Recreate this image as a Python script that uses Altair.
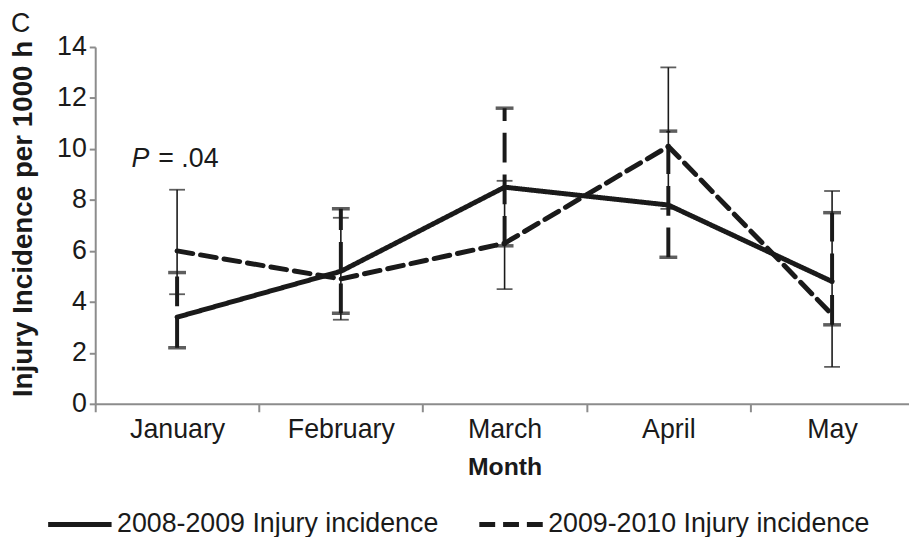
import altair as alt
import pandas as pd

months = ["January", "February", "March", "April", "May"]
series = ["2008-2009 Injury incidence", "2009-2010 Injury incidence"]
inc_0809 = [3.4, 5.2, 8.5, 7.8, 4.8]
inc_0910 = [6.0, 4.9, 6.3, 10.1, 3.5]
# thin error bars
thin_lo = [4.3, 3.3, 4.5, 7.65, 1.45]
thin_hi = [8.4, 7.3, 8.75, 13.2, 8.35]
# thick (dashed) error bars
thick_lo = [2.2, 3.55, 6.2, 5.75, 3.1]
thick_hi = [5.15, 7.65, 11.6, 10.7, 7.5]
y_ticks = [0, 2, 4, 6, 8, 10, 12, 14]
p_label_month = "January"
p_label_y = 9.6

FONT = "Liberation Sans"
INK = "#1a1a1a"
AXIS = "#8c8c8c"
FS = 27

lines_df = pd.DataFrame(
    {"month": months * 2,
     "value": inc_0809 + inc_0910,
     "series": [series[0]] * 5 + [series[1]] * 5}
)
err_df = pd.DataFrame(
    {"month": months, "thin_lo": thin_lo, "thin_hi": thin_hi,
     "thick_lo": thick_lo, "thick_hi": thick_hi}
)
p_df = pd.DataFrame({"month": [p_label_month], "y": [p_label_y]})

xscale = alt.Scale(type="band", domain=months, range=[0, 826],
                   paddingInner=0, paddingOuter=0)
yscale = alt.Scale(domain=[0, 14], nice=False)

x_enc = alt.X("month:N", scale=xscale, title="Month", sort=months,
              axis=alt.Axis(tickBand="extent", labelAngle=0, labelFontSize=FS,
                            labelFont=FONT, labelColor=INK, labelPadding=5,
                            tickSize=8, tickColor=AXIS, domainColor=AXIS,
                            domainWidth=2, tickWidth=2,
                            titleFont=FONT, titleFontSize=25, titleFontWeight="bold",
                            titleColor=INK, titlePadding=12, grid=False))

base = alt.Chart(err_df)

thin_rule = base.mark_rule(color=INK, strokeWidth=1.6).encode(
    x=x_enc,
    y=alt.Y("thin_lo:Q", scale=yscale,
            title="Injury Incidence per 1000 h",
            axis=alt.Axis(values=y_ticks, labelFontSize=FS, labelFont=FONT,
                          labelColor=INK, tickSize=6, tickColor=AXIS,
                          domainColor=AXIS, domainWidth=2, tickWidth=2,
                          labelPadding=3, grid=False,
                          titleFont=FONT, titleFontSize=28,
                          titleFontWeight="bold", titleColor=INK,
                          titlePadding=19, titleY=173)),
    y2="thin_hi:Q",
)
thin_cap_lo = base.mark_tick(color=INK, size=16, thickness=1.8).encode(
    x=alt.X("month:N", scale=xscale, sort=months), y=alt.Y("thin_lo:Q", scale=yscale))
thin_cap_hi = base.mark_tick(color=INK, size=16, thickness=1.8).encode(
    x=alt.X("month:N", scale=xscale, sort=months), y=alt.Y("thin_hi:Q", scale=yscale))

thick_rule = base.mark_rule(color=INK, strokeWidth=4, strokeDash=[30, 12]).encode(
    x=alt.X("month:N", scale=xscale, sort=months),
    y=alt.Y("thick_lo:Q", scale=yscale), y2="thick_hi:Q")
thick_cap_lo = base.mark_tick(color=INK, size=18, thickness=3.5).encode(
    x=alt.X("month:N", scale=xscale, sort=months), y=alt.Y("thick_lo:Q", scale=yscale))
thick_cap_hi = base.mark_tick(color=INK, size=18, thickness=3.5).encode(
    x=alt.X("month:N", scale=xscale, sort=months), y=alt.Y("thick_hi:Q", scale=yscale))

lines = alt.Chart(lines_df).mark_line(strokeWidth=5, strokeCap="round",
                                      color=INK).encode(
    x=alt.X("month:N", scale=xscale, sort=months),
    y=alt.Y("value:Q", scale=yscale),
    strokeDash=alt.StrokeDash(
        "series:N",
        scale=alt.Scale(domain=series, range=[[1, 0], [16, 8]]),
        legend=alt.Legend(title=None, orient="none", direction="horizontal",
                          legendX=-50, legendY=447, symbolType="stroke",
                          symbolSize=4096, symbolStrokeWidth=5,
                          symbolStrokeColor=INK, labelFont=FONT,
                          labelFontSize=FS, labelColor=INK, labelOffset=3,
                          columnPadding=30, labelLimit=600),
    ),
    detail="series:N",
)

p_italic = alt.Chart(p_df).mark_text(
    text="P", font=FONT, fontSize=FS, fontStyle="italic", color=INK,
    align="center", baseline="middle", dx=-37).encode(
    x=alt.X("month:N", scale=xscale, sort=months), y=alt.Y("y:Q", scale=yscale))
p_rest = alt.Chart(p_df).mark_text(
    text="= .04", font=FONT, fontSize=FS, color=INK,
    align="left", baseline="middle", dx=-19).encode(
    x=alt.X("month:N", scale=xscale, sort=months), y=alt.Y("y:Q", scale=yscale))

chart = alt.layer(
    thin_rule, thin_cap_lo, thin_cap_hi,
    thick_rule, thick_cap_lo, thick_cap_hi,
    lines, p_italic, p_rest,
).properties(
    width=821, height=360,
    background="white",
    autosize=alt.AutoSizeParams(type="none"),
    padding={"left": 88, "top": 37, "right": 0, "bottom": 132},
    title=alt.TitleParams("C", anchor="start", frame="group", dx=-85, dy=5,
                          offset=0, fontSize=27, fontWeight="normal", font=FONT,
                          color=INK, baseline="top"),
).configure_view(stroke=None)

chart.save("out.html", embed_options={"renderer": "svg", "actions": False})
